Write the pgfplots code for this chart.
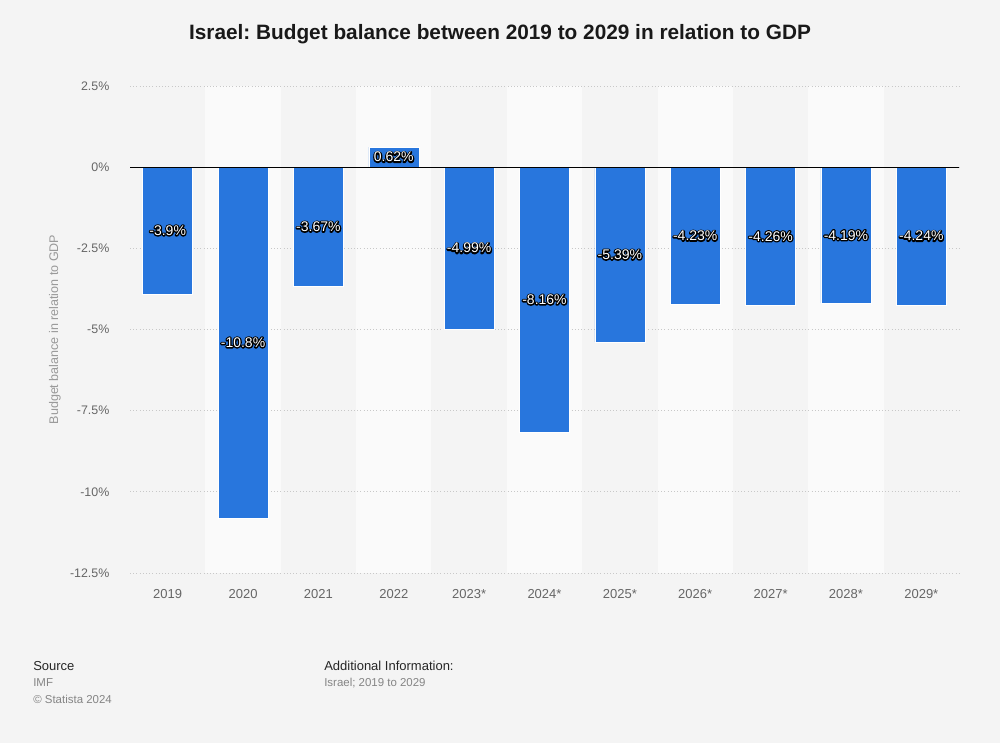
\documentclass[border=0pt]{standalone}
\usepackage{pgfplots}
\pgfplotsset{compat=1.18}
\usepackage{fontspec}
\setmainfont{Liberation Sans}
\definecolor{bg}{HTML}{F4F4F4}
\definecolor{band}{HTML}{FAFAFA}
\definecolor{barblue}{HTML}{2876DD}
\definecolor{ticktxt}{HTML}{666666}
\definecolor{labtxt}{HTML}{999999}
\definecolor{gridc}{HTML}{C8C8C8}
\newcommand{\lab}[1]{\rlap{\color{black}\special{pdf:literal direct 2 Tr 1.9 w 1 j}#1\special{pdf:literal direct 0 Tr 0.4 w 0 j}}{\color{white}#1}}
\pagecolor{bg}
\frenchspacing
\begin{document}
\frenchspacing
\begin{tikzpicture}[x=0.75pt,y=0.75pt]
\path (0,0) rectangle (1000,743);
\node[font=\bfseries\fontsize{15.6}{18}\selectfont, text=black!90] at (500,709) {Israel: Budget balance between 2019 to 2029 in relation to GDP};
\begin{axis}[
  at={(97.5pt,127.5pt)}, anchor=south west,
  scale only axis, width=621.75pt, height=365.25pt,
  xmin=-0.5, xmax=10.5, ymin=-12.5, ymax=2.5,
  axis line style={draw=none},
  tick style={draw=none},
  xtick={0,...,10},
  xticklabels={2019,2020,2021,2022,2023*,2024*,2025*,2026*,2027*,2028*,2029*},
  ytick={-12.5,-10,-7.5,-5,-2.5,0,2.5},
  yticklabels={-12.5\%,-10\%,-7.5\%,-5\%,-2.5\%,0\%,2.5\%},
  ticklabel style={font=\fontsize{9.3}{12}\selectfont, text=ticktxt},
  yticklabel style={xshift=-12pt},
  xticklabel style={yshift=-9pt, font=\fontsize{9.75}{12}\selectfont},
  ymajorgrids, major grid style={gridc, dotted, line width=0.6pt},
  ylabel={Budget balance in relation to GDP},
  ylabel style={font=\fontsize{9.4}{11}\selectfont, text=labtxt, at={(axis description cs:0,0.5)}, yshift=48.5pt, anchor=south},
  set layers, clip=false,
]
\begin{pgfonlayer}{axis background}
\pgfplotsinvokeforeach{1,3,5,7,9}{
  \fill[band] (axis cs:#1-0.5,-12.5) rectangle (axis cs:#1+0.5,2.5);
}
\end{pgfonlayer}
\addplot[ybar, bar width=37.5pt, bar shift=0pt, fill=barblue, draw=white, line width=0.3pt] coordinates {
(0,-3.9) (1,-10.8) (2,-3.67) (3,0.62) (4,-4.99) (5,-8.16) (6,-5.39) (7,-4.23) (8,-4.26) (9,-4.19) (10,-4.24)};
\draw[black, line width=0.8pt] (axis cs:-0.5,0) -- (axis cs:10.5,0);
\addplot[draw=none, mark=none, point meta=explicit symbolic,
  nodes near coords={\lab{\pgfplotspointmeta}},
  nodes near coords align=center,
  every node near coord/.append style={font=\fontsize{10.5}{12}\selectfont, anchor=center, inner sep=0pt}] coordinates {
(0,-1.95) [-3.9\%]
(1,-5.4) [-10.8\%]
(2,-1.835) [-3.67\%]
(3,0.31) [0.62\%]
(4,-2.495) [-4.99\%]
(5,-4.08) [-8.16\%]
(6,-2.695) [-5.39\%]
(7,-2.115) [-4.23\%]
(8,-2.13) [-4.26\%]
(9,-2.095) [-4.19\%]
(10,-2.12) [-4.24\%]
};
\end{axis}
\node[anchor=base west, inner sep=0pt, font=\fontsize{9.75}{12}\selectfont, text=black!85] at (33,72) {Source};
\node[anchor=base west, inner sep=0pt, font=\fontsize{8.6}{11}\selectfont, text=ticktxt!80] at (33,56) {IMF};
\node[anchor=base west, inner sep=0pt, font=\fontsize{8.6}{11}\selectfont, text=ticktxt!80] at (33,40) {© Statista 2024};
\node[anchor=base west, inner sep=0pt, font=\fontsize{9.75}{12}\selectfont, text=black!85] at (324,72) {Additional Information:};
\node[anchor=base west, inner sep=0pt, font=\fontsize{8.6}{11}\selectfont, text=ticktxt!80] at (324,56) {Israel; 2019 to 2029};
\end{tikzpicture}
\end{document}
